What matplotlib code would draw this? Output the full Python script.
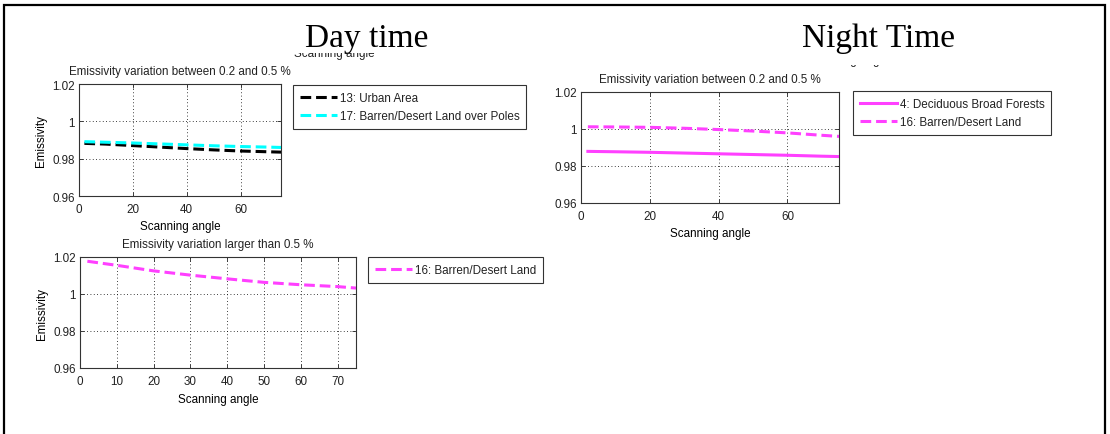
import matplotlib
matplotlib.use("Agg")
import matplotlib.pyplot as plt
from matplotlib.patches import Rectangle
from matplotlib.transforms import Bbox, TransformedBbox

W, H = 1110, 435

# emissivity vs scanning angle, read at these angles
angles = [2, 10, 20, 30, 40, 50, 60, 70, 75]

day_urban = [0.9882, 0.9878, 0.9870, 0.9862, 0.9854, 0.9847, 0.9841, 0.9837, 0.9835]
day_barren_poles = [0.9891, 0.9888, 0.9884, 0.9879, 0.9874, 0.9869, 0.9865, 0.9862, 0.9860]
day_barren = [1.0177, 1.0155, 1.0125, 1.0102, 1.0082, 1.0063, 1.0050, 1.0040, 1.0032]

night_deciduous = [0.9879, 0.9877, 0.9874, 0.9870, 0.9866, 0.9862, 0.9858, 0.9853, 0.9851]
night_barren = [1.0012, 1.0011, 1.0009, 1.0004, 0.9997, 0.9989, 0.9979, 0.9966, 0.9960]

y_ticks = [0.96, 0.98, 1.0, 1.02]
y_ticklabels = ['0.96', '0.98', '1', '1.02']
x_ticks_coarse = [0, 20, 40, 60]
x_ticks_fine = [0, 10, 20, 30, 40, 50, 60, 70]

title_small = 'Emissivity variation between 0.2 and 0.5 %'
title_large = 'Emissivity variation larger than 0.5 %'

SANS = ['Liberation Sans Narrow', 'Liberation Sans', 'DejaVu Sans']
SERIF = ['Liberation Serif', 'DejaVu Serif']
FS = 8.4
MAGENTA = '#ff40ff'
DASH = (0, (3.5, 1.6))

plt.rcParams['font.family'] = SANS
plt.rcParams['font.size'] = FS
plt.rcParams['text.color'] = '#222222'


def px_axes(fig, x0, y0, x1, y1):
    """add axes from pixel extents measured from the top-left corner"""
    return fig.add_axes([x0 / W, 1 - y1 / H, (x1 - x0) / W, (y1 - y0) / H])


def style_axes(ax, xticks, title, ylabel=True):
    ax.set_xlim(0, 75)
    ax.set_ylim(0.96, 1.02)
    ax.set_xticks(xticks)
    ax.set_yticks(y_ticks)
    ax.set_yticklabels(y_ticklabels)
    ax.tick_params(direction='in', length=3, width=0.6, top=True, right=True,
                   labelsize=FS, colors='#222222')
    ax.tick_params(axis='x', pad=5)
    ax.tick_params(axis='y', pad=3)
    ax.grid(True, linestyle=(0, (1, 3)), color='black', linewidth=0.6)
    for s in ax.spines.values():
        s.set_color('#333333')
        s.set_linewidth(0.8)
    ax.set_title(title, fontsize=FS, pad=7)
    ax.set_xlabel('Scanning angle', fontsize=FS, labelpad=4)
    if ylabel:
        ax.set_ylabel('Emissivity', fontsize=FS, labelpad=3.5)


def boxed_legend(ax, x0, y0):
    leg = ax.legend(loc='upper left', bbox_to_anchor=(x0 / W, 1 - y0 / H),
                    bbox_transform=fig.transFigure, fontsize=FS, frameon=True,
                    fancybox=False, handlelength=3.2, handletextpad=0.2,
                    labelspacing=0.5, borderpad=0.6, borderaxespad=0)
    leg.get_frame().set_edgecolor('black')
    leg.get_frame().set_linewidth(0.8)
    return leg


fig = plt.figure(figsize=(W / 100, H / 100), dpi=100)

# page frame
fig.patches.append(Rectangle((4 / W, -0.05), 1101 / W, 1 - 6 / H + 0.05,
                             transform=fig.transFigure, fill=False,
                             edgecolor='black', linewidth=1.6))

# day time: small variation
ax1 = px_axes(fig, 79, 85, 281, 197)
ax1.plot(angles, day_urban, color='black', lw=2.2, linestyle=DASH,
         label='13: Urban Area')
ax1.plot(angles, day_barren_poles, color='cyan', lw=2.2, linestyle=DASH,
         label='17: Barren/Desert Land over Poles')
style_axes(ax1, x_ticks_coarse, title_small)
boxed_legend(ax1, 293, 86)

# day time: large variation
ax2 = px_axes(fig, 80, 258, 356, 369)
ax2.plot(angles, day_barren, color=MAGENTA, lw=2.2, linestyle=DASH,
         label='16: Barren/Desert Land')
style_axes(ax2, x_ticks_fine, title_large)
boxed_legend(ax2, 368, 258)

# night time
ax3 = px_axes(fig, 581, 93, 839, 204)
ax3.plot(angles, night_deciduous, color=MAGENTA, lw=2.2,
         label='4: Deciduous Broad Forests')
ax3.plot(angles, night_barren, color=MAGENTA, lw=2.2, linestyle=DASH,
         label='16: Barren/Desert Land')
style_axes(ax3, x_ticks_coarse, title_small, ylabel=False)
boxed_legend(ax3, 853, 92)

# headings
fig.text(367 / W, 1 - 47 / H, 'Day time', family=SERIF, fontsize=24,
         ha='center', va='baseline', color='black')
fig.text(878 / W, 1 - 47 / H, 'Night Time', family=SERIF, fontsize=24,
         ha='center', va='baseline', color='black')

# axis labels of hidden plots peeking out below the headings
for cx, base, cut in [(334, 57, 54), (848, 64, 66)]:
    t = fig.text(cx / W, 1 - base / H, 'Scanning angle', fontsize=FS,
                 ha='center', va='baseline')
    t.set_clip_box(TransformedBbox(Bbox.from_extents(0, 0, 1, 1 - cut / H),
                                   fig.transFigure))
    t.set_clip_on(True)

fig.savefig('out.png', dpi=100, facecolor='white')
